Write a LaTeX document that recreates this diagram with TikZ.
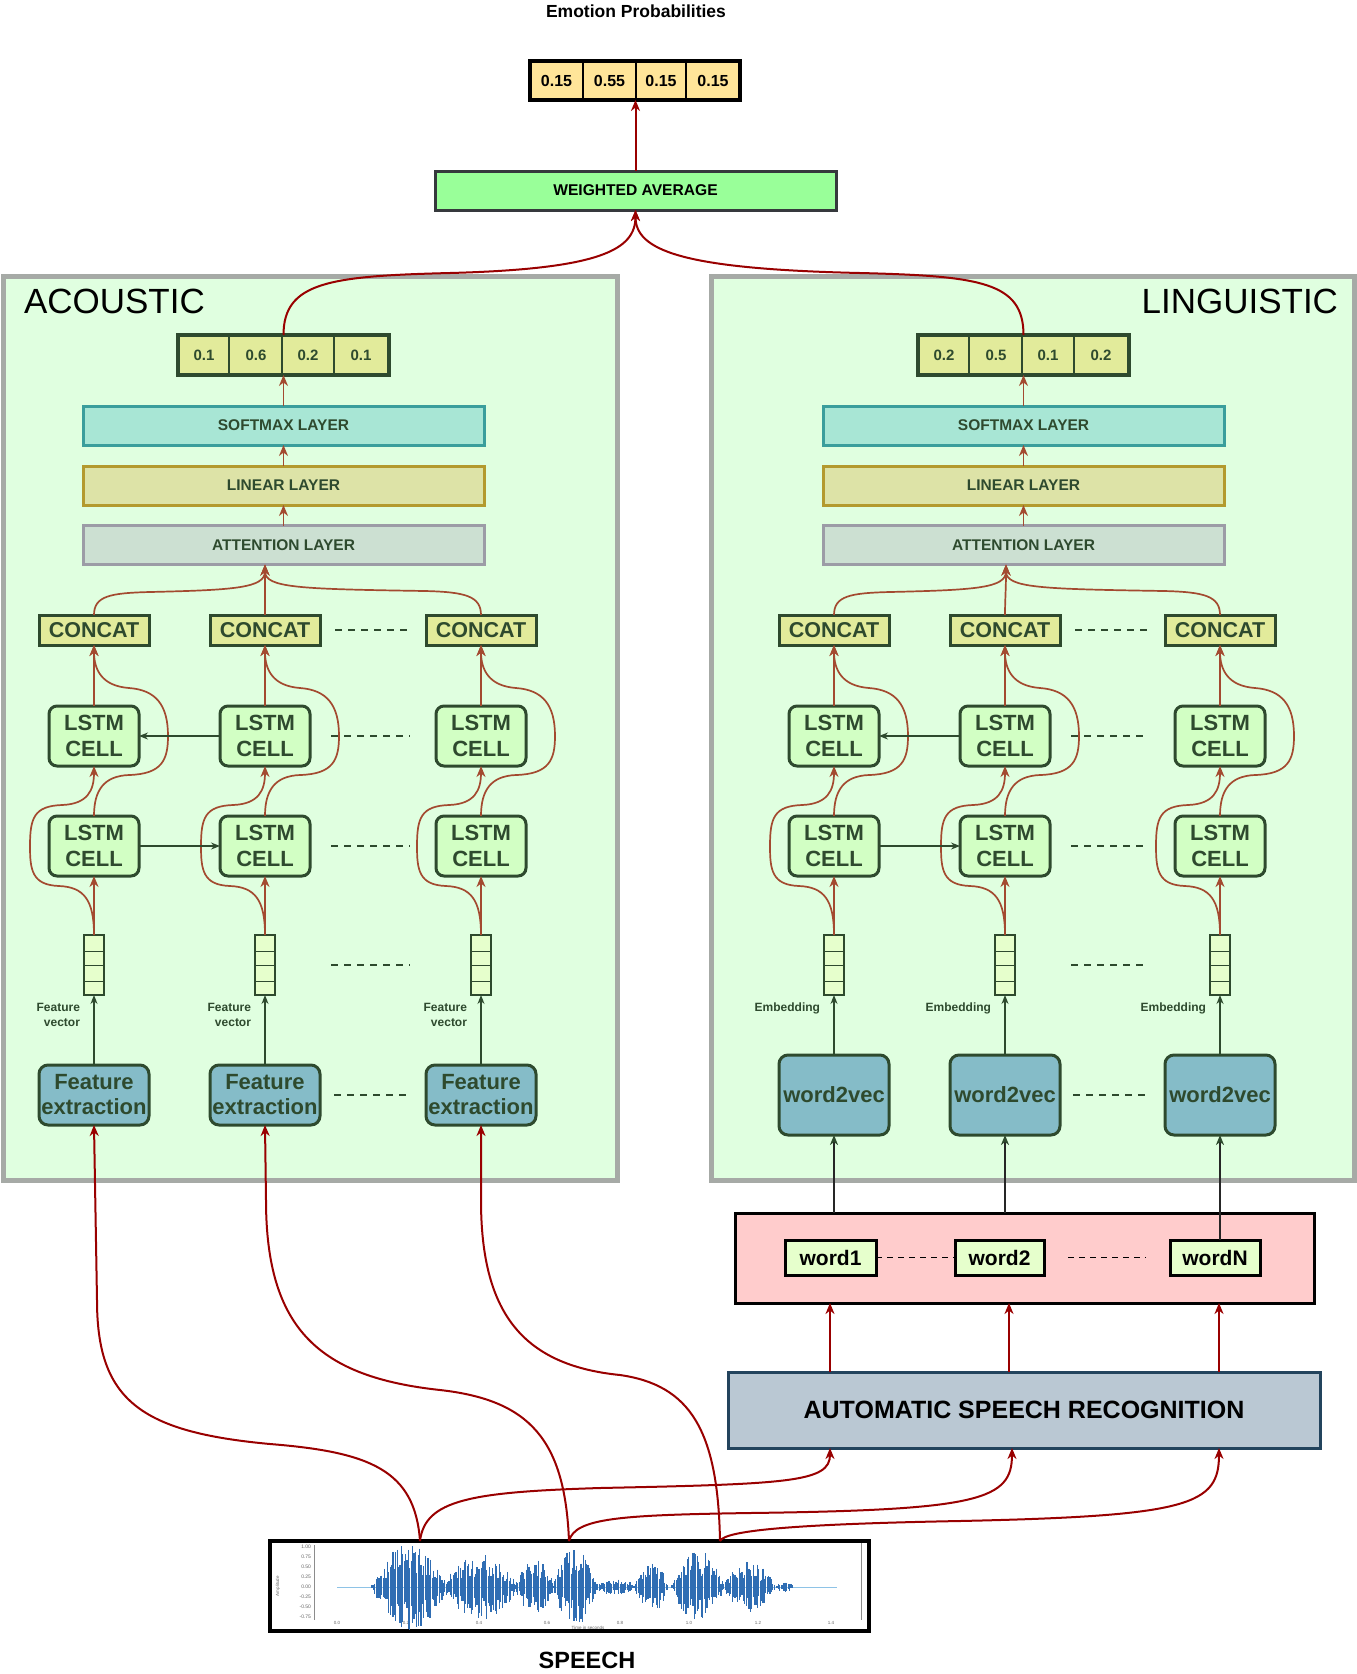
\documentclass[tikz,border=0pt]{standalone}
\usepackage{fontspec}
\setmainfont{Liberation Sans}
\usetikzlibrary{arrows.meta,calc}
\definecolor{dg}{HTML}{2E4A2E}
\definecolor{ared}{HTML}{A34A30}
\definecolor{dred}{HTML}{990000}
\definecolor{panelfill}{HTML}{E0FFE0}
\definecolor{panelline}{HTML}{A6AAA6}
\definecolor{lstmfill}{HTML}{D2FFC4}
\definecolor{concatfill}{HTML}{E2EB9B}
\definecolor{vecfill}{HTML}{E6FFCC}
\definecolor{fefill}{HTML}{85BCC8}
\definecolor{smfill}{HTML}{A8E6D5}
\definecolor{smline}{HTML}{3A9E9C}
\definecolor{linfill}{HTML}{DDE3A7}
\definecolor{linline}{HTML}{B39A2E}
\definecolor{attfill}{HTML}{CCE0D2}
\definecolor{attline}{HTML}{9C9CA6}
\definecolor{probfill}{HTML}{FFE599}
\definecolor{wafill}{HTML}{99FF99}
\definecolor{waline}{HTML}{36393D}
\definecolor{asrfill}{HTML}{BAC8D3}
\definecolor{asrline}{HTML}{23445D}
\definecolor{pinkfill}{HTML}{FFCCCC}
\definecolor{wordfill}{HTML}{E6FFCC}
\definecolor{wavec}{HTML}{2F6DB3}
\definecolor{wavelt}{HTML}{8EC3E6}
\newcommand\myfont[2]{\fontsize{#1}{#2}\selectfont\bfseries}
\newcommand\myfontr[2]{\fontsize{#1}{#2}\selectfont}
\begin{document}
\begin{tikzpicture}[x=1pt,y=-1pt,
 every node/.style={inner sep=0pt, outer sep=0pt},
 panelbox/.style={draw=panelline, fill=panelfill, line width=5pt},
 layerbox/.style={line width=3pt, minimum width=401pt, minimum height=39pt, text=dg, font=\myfont{15.5}{18}},
 barbox/.style={draw=dg, fill=concatfill, line width=3.5pt, minimum width=211pt, minimum height=40pt},
 barval/.style={text=dg, font=\myfont{15}{18}},
 concatbox/.style={draw=dg, fill=concatfill, line width=3pt, minimum width=110pt, minimum height=30pt, text=dg, font=\myfont{21.5}{24}},
 lstmbox/.style={draw=dg, fill=lstmfill, line width=3pt, rounded corners=8pt, minimum width=90pt, minimum height=60pt, text=dg, align=center, font=\myfont{22}{26}},
 vecbox/.style={draw=dg, fill=vecfill, line width=2.5pt, minimum width=20pt, minimum height=60pt},
 febox/.style={draw=dg, fill=fefill, line width=3pt, rounded corners=9pt, minimum width=110pt, minimum height=60pt, text=dg, align=center, font=\myfont{22}{25}},
 wvbox/.style={febox, minimum height=80pt},
 vlabel/.style={text=dg, font=\myfont{12}{14.5}, align=right},
 wordbox/.style={draw=black, fill=wordfill, line width=3pt, minimum height=35pt, font=\myfont{21}{24}},
 iarr/.style={draw=ared, line width=1.7pt, -{Stealth[length=11pt,width=9pt,inset=3.5pt]}},
 rarr/.style={draw=dred, line width=2pt, -{Stealth[length=11pt,width=9pt,inset=3.5pt]}},
 garr/.style={draw=dg, line width=1.5pt, -{Stealth[length=9pt,width=7pt,inset=3pt]}},
 karr/.style={draw=black!85, line width=1.8pt, -{Stealth[length=10pt,width=8pt,inset=3pt,color=dg]}},
 dline/.style={draw=dg, line width=1.8pt, dash pattern=on 7pt off 6pt},
 wline/.style={draw=black, line width=1.8pt, dash pattern=on 6pt off 5pt},
]
\useasboundingbox (0,0) rectangle (1357,1674);
\fill[white] (0,0) rectangle (1357,1674);

% ---------- top ----------
\node[font=\myfont{17.5}{20}] (title) at (636,11) {Emotion Probabilities};
\node[draw=black, fill=probfill, line width=3.5pt, minimum width=210pt, minimum height=39pt] (fbar) at (635,80.5) {};
\foreach \xx in {583,636,686}{\draw[black, line width=2pt] (\xx,62) -- (\xx,99);}
\node[font=\myfont{16}{18}] (fv1) at (556.5,80.5) {0.15};
\node[font=\myfont{16}{18}] (fv2) at (609.5,80.5) {0.55};
\node[font=\myfont{16}{18}] (fv3) at (661,80.5) {0.15};
\node[font=\myfont{16}{18}] (fv4) at (713,80.5) {0.15};
\node[draw=waline, fill=wafill, line width=3pt, minimum width=401pt, minimum height=39pt, font=\myfont{15.6}{18}] (wa) at (635.5,190.5) {WEIGHTED AVERAGE};
\draw[rarr] (wa.north) -- (wa.north |- fbar.south);

% ---------- panels ----------
\node[panelbox, minimum width=614pt, minimum height=904pt] (acP) at (310,728) {};
\node[panelbox, minimum width=643pt, minimum height=904pt] (liP) at (1032.5,728) {};
\node[anchor=west, font=\myfontr{35}{40}] (acT) at (24,301) {ACOUSTIC};
\node[anchor=east, font=\myfontr{35}{40}] (liT) at (1338,301) {LINGUISTIC};

\foreach \pf/\ca/\cb/\cc/\lx/\ax/\va/\vb/\vc/\vd in {a/94/265/481/283.5/265/0.1/0.6/0.2/0.1, l/834/1005/1220/1023.5/1006/0.2/0.5/0.1/0.2}{
  \node[barbox] (\pf Bar) at (\lx,355) {};
  \foreach \dd in {51,104,155.5}{\draw[dg, line width=2pt] ($(\pf Bar.north west)+(\dd,0)$) -- ($(\pf Bar.south west)+(\dd,0)$);}
  \node[barval] (\pf v1) at ($(\pf Bar.west)+(26,0)$) {\va};
  \node[barval] (\pf v2) at ($(\pf Bar.west)+(78,0)$) {\vb};
  \node[barval] (\pf v3) at ($(\pf Bar.west)+(130,0)$) {\vc};
  \node[barval] (\pf v4) at ($(\pf Bar.west)+(183,0)$) {\vd};
  \node[layerbox, draw=smline, fill=smfill] (\pf Sm) at (\lx,425.5) {SOFTMAX LAYER};
  \node[layerbox, draw=linline, fill=linfill] (\pf Lin) at (\lx,485.5) {LINEAR LAYER};
  \node[layerbox, draw=attline, fill=attfill] (\pf Att) at (\lx,545) {ATTENTION LAYER};
  \draw[iarr] (\pf Sm.north) -- (\pf Bar.south);
  \draw[iarr] (\pf Lin.north) -- (\pf Sm.south);
  \draw[iarr] (\pf Att.north) -- (\pf Lin.south);
  \coordinate (\pf AttIn) at (\pf Att.south -| \ax,0);
  \foreach \k/\cx in {1/\ca,2/\cb,3/\cc}{
    \node[concatbox] (\pf Co\k) at (\cx,630) {CONCAT};
    \node[lstmbox] (\pf LT\k) at (\cx,736) {LSTM\\CELL};
    \node[lstmbox] (\pf LB\k) at (\cx,846) {LSTM\\CELL};
    \node[vecbox] (\pf V\k) at (\cx,965) {};
    \foreach \f in {0.27,0.5,0.77}{\draw[dg, line width=1pt] ($(\pf V\k.north west)!\f!(\pf V\k.south west)$) -- ($(\pf V\k.north east)!\f!(\pf V\k.south east)$);}
  }
  \foreach \k/\cx in {1/\ca,2/\cb,3/\cc}{
    \draw[iarr] (\pf V\k.north) -- (\pf LB\k.south);
    \draw[iarr] (\pf V\k.north) .. controls (\cx,900) and ({\cx-10},887) .. ({\cx-35},886) .. controls ({\cx-62},885) and ({\cx-64},870) .. ({\cx-64},846) .. controls ({\cx-64},818) and ({\cx-60},806) .. ({\cx-32},805) .. controls ({\cx-6},804) and (\cx,790) .. (\pf LT\k.south);
    \draw[iarr] (\pf LB\k.north) .. controls (\cx,790) and ({\cx+10},776) .. ({\cx+35},775) .. controls ({\cx+68},774) and ({\cx+74},760) .. ({\cx+74},736) .. controls ({\cx+74},705) and ({\cx+62},690) .. ({\cx+35},688) .. controls ({\cx+8},686) and (\cx,670) .. (\pf Co\k.south);
    \draw[iarr] (\pf LT\k.north) -- (\pf Co\k.south);
  }
  \draw[iarr] (\pf Co1.north) .. controls (\ca,596) and ({\ca+16},593) .. ({\ca+56},592) .. controls ({\ax-30},590) and (\ax,588) .. (\pf AttIn);
  \draw[iarr] (\pf Co2.north) .. controls (\cb,600) and (\ax,590) .. (\pf AttIn);
  \draw[iarr] (\pf Co3.north) .. controls (\cc,596) and ({\cc-16},592) .. ({\cc-56},591) .. controls ({\ax+35},589) and (\ax,588) .. (\pf AttIn);
  \draw[garr, line width=1.2pt] (\pf LB1.east) -- (\pf LB2.west);
  \draw[garr, line width=1.2pt] (\pf LT2.west) -- (\pf LT1.east);
  \draw[dline] ($(\pf Co2.east)+(15,0)$) -- ($(\pf Co3.west)+(-13,0)$);
  \draw[dline] ($(\pf LT2.east)+(21,0)$) -- ($(\pf LT3.west)+(-26,0)$);
  \draw[dline] ($(\pf LB2.east)+(21,0)$) -- ($(\pf LB3.west)+(-26,0)$);
  \draw[dline] ($(\pf V2.east)+(56,0)$) -- ($(\pf V3.west)+(-61,0)$);
}

% acoustic bottom nodes
\foreach \k/\cx in {1/94,2/265,3/481}{
  \node[febox] (aF\k) at (\cx,1095) {Feature\\extraction};
  \node[vlabel, anchor=east] (aL\k) at ({\cx-14},1015) {Feature\\vector};
  \draw[garr] (aF\k.north) -- (aV\k.south);
}
\draw[dline] ($(aF2.east)+(14,0)$) -- ($(aF3.west)+(-14,0)$);
% linguistic bottom nodes
\foreach \k/\cx in {1/834,2/1005,3/1220}{
  \node[wvbox] (lF\k) at (\cx,1095) {word2vec};
  \node[vlabel, anchor=east] (lL\k) at ({\cx-14},1008) {Embedding};
  \draw[garr] (lF\k.north) -- (lV\k.south);
}
\draw[dline] ($(lF2.east)+(13,0)$) -- ($(lF3.west)+(-14,0)$);

% to weighted average
\draw[rarr] (aBar.north) .. controls (283.5,282) and (330,276) .. (450,273) .. controls (600,269) and (635.5,250) .. (wa.south);
\draw[rarr] (lBar.north) .. controls (1023.5,282) and (980,276) .. (860,273) .. controls (680,269) and (635.5,250) .. (wa.south);

% ---------- words & ASR ----------
\node[draw=black, fill=pinkfill, line width=3pt, minimum width=579pt, minimum height=90pt] (wbox) at (1024.5,1258) {};
\node[wordbox, minimum width=91pt] (w1) at (830.5,1257.5) {word1};
\node[wordbox, minimum width=89pt] (w2) at (999.5,1257.5) {word2};
\node[wordbox, minimum width=90pt] (wN) at (1215,1257.5) {wordN};
\draw[wline] (w1.east) -- (w2.west);
\draw[wline] ($(w2.east)+(24,0)$) -- ($(wN.west)+(-24,0)$);
\draw[karr] (wbox.north -| lF1.south) -- (lF1.south);
\draw[karr] (wbox.north -| lF2.south) -- (lF2.south);
\draw[karr] (wN.north -| lF3.south) -- (lF3.south);

\node[draw=asrline, fill=asrfill, line width=3pt, minimum width=592pt, minimum height=76pt, font=\myfont{25}{28}] (asr) at (1024,1410) {AUTOMATIC SPEECH RECOGNITION};
\coordinate (q1) at (830,0);
\coordinate (q2) at (1009,0);
\coordinate (q3) at (1219,0);
\coordinate (r2) at (1012,0);
\draw[rarr] (asr.north -| q1) -- (wbox.south -| q1);
\draw[rarr] (asr.north -| q2) -- (wbox.south -| q2);
\draw[rarr] (asr.north -| q3) -- (wbox.south -| q3);

% ---------- speech ----------
\node[draw=black, fill=white, line width=3.5pt, minimum width=599pt, minimum height=90pt] (speech) at (569.5,1586) {};
\node[font=\myfont{23.5}{26}] (speechT) at (587,1660) {SPEECH};
\draw[black!45, line width=0.6pt] (314,1545) -- (314,1620);
\draw[black!45, line width=1.5pt] (861.5,1543) -- (861.5,1620);
\foreach \tv/\ty in {1.00/1547,0.75/1557,0.50/1567,0.25/1577,0.00/1587,-0.25/1597,-0.50/1607,-0.75/1617}{
  \node[anchor=east, font=\myfontr{5}{6}, text=black!60] at (311,\ty) {\tv};
}
\foreach \tv/\tx in {0.0/337,0.2/406,0.4/479,0.6/547,0.8/620,1.0/689,1.2/758,1.4/831}{
  \node[font=\myfontr{4.5}{5}, text=black!60] at (\tx,1623) {\tv};
}
\node[font=\myfontr{4.5}{5}, text=black!60] at (588,1628) {Time in seconds};
\node[font=\myfontr{4.5}{5}, text=black!60, rotate=90] at (278,1586) {Amplitude};
\pgfmathsetseed{7}
\draw[wavelt, line width=0.8pt] (337,1587) -- (837,1587);
\foreach \cc/\ww/\hh in {410/38/42, 480/38/32, 535/20/26, 575/22/38, 615/20/6, 651/17/27, 698/26/36, 748/27/24, 785/8/4}{
  \pgfmathsetmacro\xs{\cc-\ww}
  \pgfmathsetmacro\xn{\cc-\ww+1.4}
  \pgfmathsetmacro\xe{\cc+\ww}
  \foreach \xx in {\xs,\xn,...,\xe}{
    \pgfmathsetmacro\env{max(0,\hh*(1-((\xx-\cc)/\ww)^2))+2}
    \pgfmathsetmacro\ua{\env*(0.3+0.7*rnd)}
    \pgfmathsetmacro\ub{\env*(0.3+0.7*rnd)}
    \draw[wavec, line width=1.1pt] ({\xx},{1587-\ua}) -- ({\xx},{1587+\ub});
  }
}

% speech connectors
\coordinate (p1) at (420,0);
\coordinate (p2) at (569,0);
\coordinate (p3) at (720,0);
\draw[rarr] (speech.north -| p1) .. controls (415,1470) and (370,1452) .. (270,1444) .. controls (140,1432) and (97,1400) .. (97,1300) -- (aF1.south);
\draw[rarr] (speech.north -| p2) .. controls (565,1440) and (530,1400) .. (440,1390) .. controls (320,1377) and (266,1330) .. (266,1200) -- (aF2.south);
\draw[rarr] (speech.north -| p3) .. controls (718,1430) and (690,1385) .. (620,1375) .. controls (520,1365) and (481,1310) .. (481,1200) -- (aF3.south);
\draw[rarr] (speech.north -| p1) .. controls (425,1500) and (470,1492) .. (600,1488) .. controls (790,1484) and (830,1482) .. (asr.south -| q1);
\draw[rarr] (speech.north -| p2) .. controls (575,1518) and (620,1515) .. (750,1513) .. controls (980,1510) and (1012,1500) .. (asr.south -| r2);
\draw[rarr] (speech.north -| p3) .. controls (725,1530) and (800,1524) .. (960,1521) .. controls (1190,1516) and (1219,1505) .. (asr.south -| q3);
\end{tikzpicture}
\end{document}
